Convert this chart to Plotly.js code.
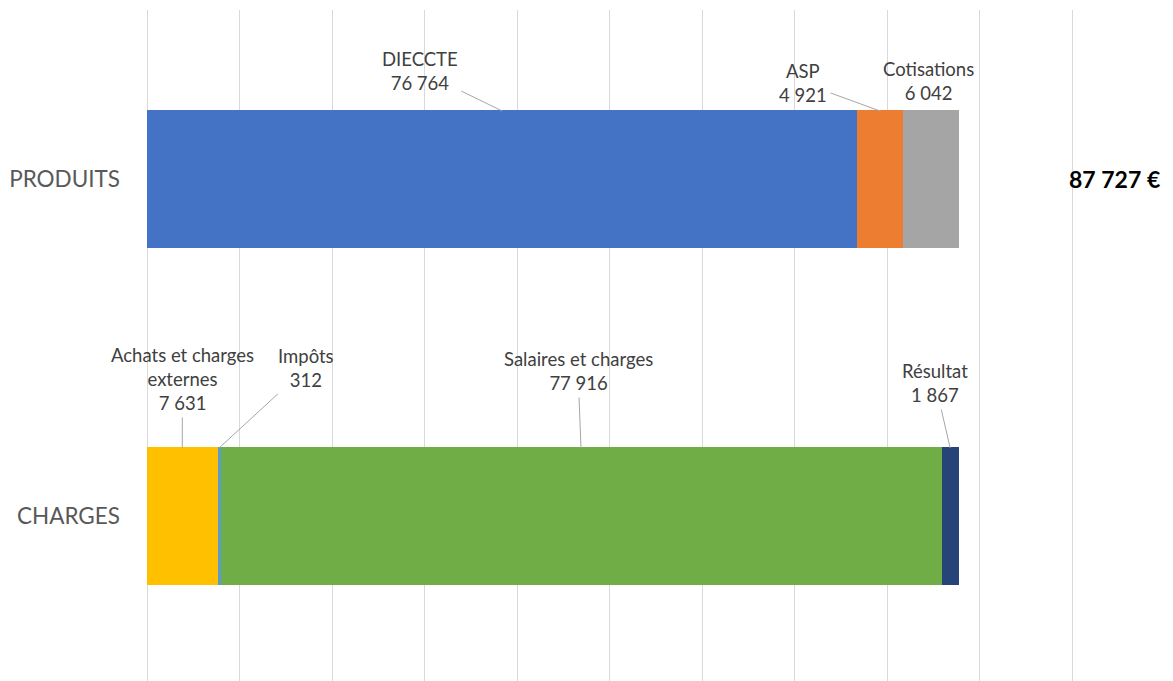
<!DOCTYPE html>
<html>
<head>
<meta charset="utf-8">
<script src="https://cdn.plot.ly/plotly-3.0.1.min.js"></script>
<style>html,body{margin:0;padding:0;background:#fff;}#chart{width:1173px;height:681px;}</style>
</head>
<body>
<div id="chart"></div>
<script>
// Data
var categories = ['PRODUITS', 'CHARGES'];
var produitsNames = ['DIECCTE', 'ASP', 'Cotisations'];
var produitsValues = [76764, 4921, 6042];
var chargesNames = ['Achats et charges<br>externes', 'Impôts', 'Salaires et charges', 'Résultat'];
var chargesValues = [7631, 312, 77916, 1867];
var totalLabel = '87 727 €';

var produitsColors = ['#4472C4', '#ED7D31', '#A5A5A5'];
var chargesColors = ['#FFC000', '#5B9BD5', '#70AD47', '#264478'];

// label offsets (pixels) relative to segment mid on bar top edge
var produitsOffsets = [[-82, -40, true], [-77, -28, true], [-2, -30, false]];
var chargesOffsets = [[0, -69, true], [87, -80, true], [-3, -77, true], [-15, -65, true]];

function fmt(v) {
  return String(v).replace(/\B(?=(\d{3})+(?!\d))/g, ' ');
}

var traces = [];
var annotations = [];
var labelFont = {family: 'Lato, "Open Sans", sans-serif', size: 18.5, color: '#404040'};

function addGroup(cat, names, values, colors, offsets) {
  var cum = 0;
  for (var i = 0; i < values.length; i++) {
    traces.push({
      type: 'bar', orientation: 'h',
      y: [cat], x: [values[i]], name: names[i],
      marker: {color: colors[i], line: {width: 0}},
      hoverinfo: 'skip'
    });
    var mid = cum + values[i] / 2;
    cum += values[i];
    annotations.push({
      x: mid, y: cat, xref: 'x', yref: 'y',
      yshift: 68,
      text: names[i] + '<br>' + fmt(values[i]),
      showarrow: true, arrowhead: 0, arrowwidth: 1,
      arrowcolor: offsets[i][2] ? '#A6A6A6' : 'rgba(0,0,0,0)',
      ax: offsets[i][0], ay: offsets[i][1],
      standoff: 0, startstandoff: 2,
      font: labelFont,
      align: 'center'
    });
  }
  return cum;
}

var totP = addGroup(categories[0], produitsNames, produitsValues, produitsColors, produitsOffsets);
addGroup(categories[1], chargesNames, chargesValues, chargesColors, chargesOffsets);

annotations.push({
  x: totP, y: categories[0], xref: 'x', yref: 'y',
  xanchor: 'left', xshift: 108, showarrow: false,
  text: '<b>' + totalLabel + '</b>',
  font: {family: 'Lato, "Open Sans", sans-serif', size: 23, color: '#000000'}
});

var layout = {
  width: 1173, height: 681,
  barmode: 'stack',
  bargap: 0.593,
  showlegend: false,
  paper_bgcolor: '#ffffff', plot_bgcolor: '#ffffff',
  margin: {l: 147, r: 96, t: 10, b: 0, pad: 0},
  xaxis: {
    range: [0, 100500], dtick: 10000, tick0: 0,
    showgrid: true, gridcolor: '#D9D9D9', gridwidth: 1,
    zeroline: true, zerolinecolor: '#D9D9D9', zerolinewidth: 1,
    showticklabels: false, ticks: '', showline: false, fixedrange: true
  },
  yaxis: {
    type: 'category',
    range: [1.4896, -0.5015],
    showgrid: false, zeroline: false, showline: false, ticks: '',
    ticklabelstandoff: 26,
    tickfont: {family: 'Lato, "Open Sans", sans-serif', size: 22.5, color: '#595959'},
    fixedrange: true
  },
  annotations: annotations
};

Plotly.newPlot('chart', traces, layout, {displayModeBar: false, staticPlot: true});
</script>
</body>
</html>
